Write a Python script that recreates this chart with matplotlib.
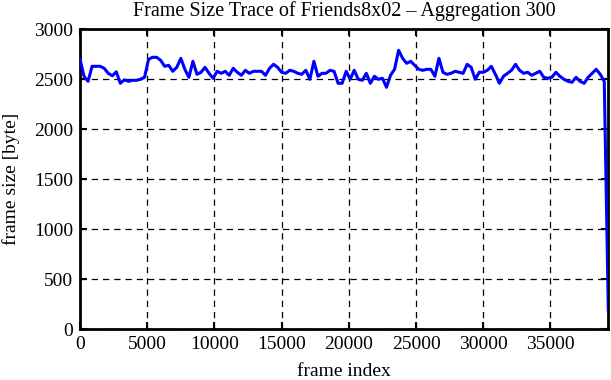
import matplotlib
matplotlib.use("Agg")
import matplotlib.pyplot as plt
import numpy as np

# aggregated frame sizes (every 300 frames)
frames = [0, 300, 600, 900, 1200, 1500, 1800, 2100, 2400, 2700, 3000, 3300, 3600, 3900, 4200, 4500, 4800,
          5100, 5400, 5700, 6000, 6300, 6600, 6900, 7200, 7500, 7800, 8100, 8400, 8700, 9000, 9300, 9600, 9900,
          10200, 10500, 10800, 11100, 11400, 11700, 12000, 12300, 12600, 12900, 13200, 13500, 13800, 14100, 14400, 14700,
          15000, 15300, 15600, 15900, 16200, 16500, 16800, 17100, 17400, 17700, 18000, 18300, 18600, 18900, 19200, 19500, 19800,
          20100, 20400, 20700, 21000, 21300, 21600, 21900, 22200, 22500, 22800, 23100, 23400, 23700, 24000, 24300, 24600, 24900,
          25200, 25500, 25800, 26100, 26400, 26700, 27000, 27300, 27600, 27900, 28200, 28500, 28800, 29100, 29400, 29700,
          30000, 30300, 30600, 30900, 31200, 31500, 31800, 32100, 32400, 32700, 33000, 33300, 33600, 33900, 34200, 34500, 34800,
          35100, 35400, 35700, 36000, 36300, 36600, 36900, 37200, 37500, 37800, 38100, 38400, 38700, 39000, 39300]
sizes = [2700, 2530, 2480, 2630, 2630, 2630, 2610, 2560, 2535, 2575, 2460, 2495, 2480, 2490, 2490, 2500, 2520,
         2700, 2720, 2720, 2690, 2630, 2640, 2580, 2620, 2710, 2600, 2520, 2680, 2550, 2570, 2620, 2560, 2510,
         2580, 2560, 2580, 2540, 2610, 2570, 2540, 2590, 2560, 2580, 2580, 2580, 2540, 2610, 2650, 2620,
         2570, 2560, 2590, 2580, 2560, 2550, 2590, 2500, 2680, 2530, 2560, 2560, 2590, 2580, 2460, 2460, 2580,
         2500, 2590, 2500, 2490, 2560, 2460, 2530, 2500, 2510, 2420, 2540, 2600, 2790, 2710, 2660, 2680, 2640,
         2600, 2590, 2600, 2600, 2530, 2710, 2570, 2550, 2560, 2580, 2570, 2560, 2650, 2620, 2500, 2570,
         2570, 2590, 2630, 2550, 2460, 2530, 2560, 2590, 2650, 2590, 2560, 2570, 2540, 2560, 2580, 2520, 2510,
         2520, 2570, 2530, 2500, 2480, 2470, 2520, 2480, 2460, 2520, 2560, 2600, 2550, 2480, 190]

xticks = [0, 5000, 10000, 15000, 20000, 25000, 30000, 35000]
yticks = [0, 500, 1000, 1500, 2000, 2500, 3000]

plt.rcParams['font.family'] = ['Liberation Serif', 'DejaVu Serif']

W, H = 611, 380
fig = plt.figure(figsize=(W/100, H/100), dpi=100)
ax = fig.add_axes([80/W, 1-329.3/H, (608.3-80)/W, 300/H])

ax.plot(frames, sizes, color='#0000ff', lw=2.2, zorder=3)
ax.set_xlim(0, 39300)
ax.set_ylim(0, 3000)
ax.set_xticks(xticks)
ax.set_yticks(yticks)
ax.grid(True, color='black', linestyle=(0, (5, 4)), lw=0.9)
ax.tick_params(direction='in', length=5, width=1.5, top=True, right=True, labelsize=14, pad=5)
for s in ax.spines.values():
    s.set_linewidth(2)
fig.text(344/W, 1-11/H, 'Frame Size Trace of Friends8x02 \u2013 Aggregation 300',
         fontsize=14.5, ha='center', va='center')
fig.text(344/W, 1-371/H, 'frame index', fontsize=14, ha='center', va='center')
fig.text(11/W, 1-179/H, 'frame size [byte]', fontsize=14, ha='center', va='center', rotation=90)

fig.savefig('out.png', dpi=100)
